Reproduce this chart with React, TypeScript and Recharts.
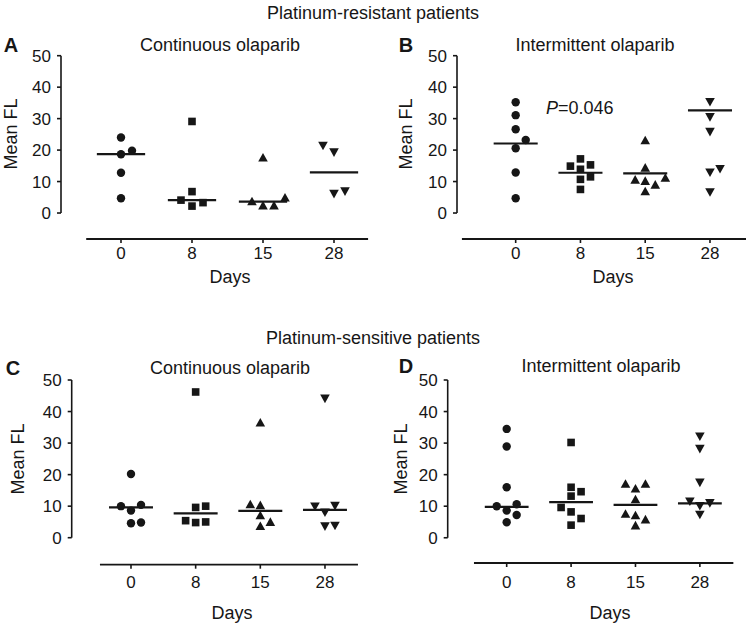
import { ReferenceLine, Scatter, ScatterChart, XAxis, YAxis } from "recharts";

const days = ["0", "8", "15", "28"];
const yTicks = [0, 10, 20, 30, 40, 50];

// A: platinum-resistant, continuous olaparib
const aDay0 = [24.0, 19.8, 18.7, 12.8, 4.7];
const aDay8 = [29.1, 6.8, 4.1, 3.3, 2.2];
const aDay15 = [17.7, 5.0, 3.8, 2.5, 2.5];
const aDay28 = [21.3, 19.2, 6.8, 6.0];
const aMedians = [18.7, 4.1, 3.6, 12.9];

// B: platinum-resistant, intermittent olaparib
const bDay0 = [35.2, 31.1, 26.6, 23.2, 20.6, 12.9, 4.7];
const bDay8 = [17.2, 15.3, 14.9, 13.9, 11.5, 10.7, 7.5];
const bDay15 = [23.2, 14.5, 11.3, 10.7, 10.3, 9.1, 7.0];
const bDay28 = [35.2, 30.4, 25.7, 13.9, 12.8, 6.5];
const bMedians = [22.1, 12.8, 12.6, 32.6];

// C: platinum-sensitive, continuous olaparib
const cDay0 = [20.2, 10.4, 10.0, 8.6, 4.8, 4.6];
const cDay8 = [46.2, 10.0, 9.6, 5.4, 5.0, 4.8];
const cDay15 = [36.6, 10.7, 10.4, 7.2, 5.1, 3.8];
const cDay28 = [44.0, 10.0, 9.8, 7.9, 3.7, 3.5];
const cMedians = [9.6, 7.7, 8.5, 8.8];

// D: platinum-sensitive, intermittent olaparib
const dDay0 = [34.5, 28.9, 16.0, 10.6, 10.0, 8.6, 7.2, 4.9];
const dDay8 = [30.2, 16.0, 14.6, 13.2, 9.6, 8.2, 6.1, 4.0];
const dDay15 = [17.2, 17.2, 15.7, 12.3, 7.7, 7.2, 5.9, 4.0];
const dDay28 = [32.0, 28.1, 17.4, 11.4, 10.9, 10.0, 7.2];
const dMedians = [9.8, 11.3, 10.4, 10.9];

const INK = "#161616";
const FONT = "'Liberation Sans', Arial, Helvetica, sans-serif";
const STEP = 0.155; // jitter column width, in category units
const GAP = 2.7; // min vertical distance before a point gets pushed sideways

// simple column beeswarm so overlapping points get spread out
function swarm(values: number[], center: number) {
  const placed: { y: number; col: number }[] = [];
  [...values]
    .sort((a, b) => a - b)
    .forEach((v) => {
      const free = (c: number) => placed.every((p) => p.col !== c || Math.abs(p.y - v) >= GAP);
      const count = (c: number) => placed.filter((p) => p.col === c).length;
      let col = 0;
      for (let k = 1; !free(col) && k < 6; k++) {
        const sides = count(-k) < count(k) ? [-k, k] : [k, -k];
        const hit = sides.find(free);
        if (hit !== undefined) col = hit;
      }
      placed.push({ y: v, col });
    });
  return placed.map((p) => ({ x: center + p.col * STEP, y: p.y }));
}

type Kind = "circle" | "square" | "up" | "down";
const kinds: Kind[] = ["circle", "square", "up", "down"];

function Marker({ cx, cy, kind }: { cx?: number; cy?: number; kind: Kind }) {
  if (cx == null || cy == null) return null;
  if (kind === "circle") return <circle cx={cx} cy={cy} r={4.2} fill={INK} />;
  if (kind === "square") return <rect x={cx - 3.8} y={cy - 3.8} width={7.6} height={7.6} fill={INK} />;
  const w = 4.8;
  const h = 4.3;
  if (kind === "up")
    return <path d={`M${cx},${cy - h} L${cx + w},${cy + h} L${cx - w},${cy + h} Z`} fill={INK} />;
  return <path d={`M${cx},${cy + h} L${cx + w},${cy - h} L${cx - w},${cy - h} Z`} fill={INK} />;
}

type Panel = {
  groups: number[][];
  medians: number[];
  margin: { top: number; right: number; bottom: number; left: number };
  xDomain: [number, number];
  xLine: [number, number];
  yMin: number;
  tickGap: number;
};

const panels: Panel[] = [
  {
    groups: [aDay0, aDay8, aDay15, aDay28],
    medians: aMedians,
    margin: { top: 55.7, right: 376, bottom: 355, left: 21 },
    xDomain: [-0.845, 3.507],
    xLine: [-0.49, 3.48],
    yMin: -8.26,
    tickGap: 4,
  },
  {
    groups: [bDay0, bDay8, bDay15, bDay28],
    medians: bMedians,
    margin: { top: 55.7, right: 0, bottom: 355, left: 417 },
    xDomain: [-0.906, 3.556],
    xLine: [-0.83, 3.556],
    yMin: -8.26,
    tickGap: 4,
  },
  {
    groups: [cDay0, cDay8, cDay15, cDay28],
    medians: cMedians,
    margin: { top: 380, right: 387.4, bottom: 29.3, left: 31.7 },
    xDomain: [-0.917, 3.52],
    xLine: [-0.48, 3.51],
    yMin: -8.56,
    tickGap: 7,
  },
  {
    groups: [dDay0, dDay8, dDay15, dDay28],
    medians: dMedians,
    margin: { top: 380, right: 12, bottom: 31, left: 407.7 },
    xDomain: [-0.916, 3.53],
    xLine: [-0.508, 3.52],
    yMin: -8.0,
    tickGap: 9,
  },
];

function PanelChart({ p }: { p: Panel }) {
  const [x0] = p.xDomain;
  return (
    <div style={{ position: "absolute", left: 0, top: 0 }}>
      <ScatterChart width={746} height={624} margin={p.margin}>
        <XAxis
          type="number"
          dataKey="x"
          domain={p.xDomain}
          allowDataOverflow
          ticks={[0, 1, 2, 3]}
          tickFormatter={(v) => days[v]}
          axisLine={false}
          tickLine={{ stroke: INK, strokeWidth: 1.6 }}
          tickSize={4}
          tickMargin={p.tickGap}
          height={30}
          tick={{ fill: INK, fontSize: 17, fontFamily: FONT }}
        />
        <YAxis
          type="number"
          dataKey="y"
          domain={[p.yMin, 50]}
          allowDataOverflow
          ticks={yTicks}
          axisLine={false}
          tickLine={{ stroke: INK, strokeWidth: 1.6 }}
          tickSize={4}
          tickMargin={6}
          width={40}
          tick={{ fill: INK, fontSize: 17, fontFamily: FONT }}
        />
        <ReferenceLine
          segment={[{ x: x0, y: 0 }, { x: x0, y: 50 }]}
          stroke={INK}
          strokeWidth={1.6}
          ifOverflow="visible"
        />
        <ReferenceLine
          segment={[{ x: p.xLine[0], y: p.yMin }, { x: p.xLine[1], y: p.yMin }]}
          stroke={INK}
          strokeWidth={1.8}
          ifOverflow="visible"
        />
        {p.medians.map((m, i) => (
          <ReferenceLine
            key={"m" + i}
            segment={[{ x: i - 0.34, y: m }, { x: i + 0.34, y: m }]}
            stroke={INK}
            strokeWidth={2.2}
            ifOverflow="visible"
          />
        ))}
        {p.groups.map((vals, i) => (
          <Scatter
            key={"s" + i}
            data={swarm(vals, i)}
            isAnimationActive={false}
            shape={(props: any) => <Marker cx={props.cx} cy={props.cy} kind={kinds[i]} />}
          />
        ))}
      </ScatterChart>
    </div>
  );
}

const txt = { fontFamily: FONT, fill: INK } as const;

export default function App() {
  return (
    <div style={{ position: "absolute", left: 0, top: 0, width: 746, height: 624, background: "#fff" }}>
      {panels.map((p, i) => (
        <PanelChart key={i} p={p} />
      ))}
      <svg
        width={746}
        height={624}
        style={{ position: "absolute", left: 0, top: 0, pointerEvents: "none" }}
      >
        <g {...txt} fontSize={18} textAnchor="middle" dominantBaseline="central">
          <text x={373} y={13}>Platinum-resistant patients</text>
          <text x={373} y={338}>Platinum-sensitive patients</text>
          <text x={220} y={45}>Continuous olaparib</text>
          <text x={595} y={45}>Intermittent olaparib</text>
          <text x={230} y={368}>Continuous olaparib</text>
          <text x={601} y={366}>Intermittent olaparib</text>
          <text x={230} y={277}>Days</text>
          <text x={613} y={277}>Days</text>
          <text x={232} y={613}>Days</text>
          <text x={610} y={613}>Days</text>
          <text transform="translate(11,134) rotate(-90)">Mean FL</text>
          <text transform="translate(406,134) rotate(-90)">Mean FL</text>
          <text transform="translate(18,459) rotate(-90)">Mean FL</text>
          <text transform="translate(401,459) rotate(-90)">Mean FL</text>
        </g>
        <g {...txt} fontSize={20} fontWeight="bold" textAnchor="middle" dominantBaseline="central">
          <text x={11} y={45}>A</text>
          <text x={406} y={45}>B</text>
          <text x={13} y={368}>C</text>
          <text x={406} y={366}>D</text>
        </g>
        <text {...txt} x={546} y={108} fontSize={18} dominantBaseline="central">
          <tspan fontStyle="italic">P</tspan>=0.046
        </text>
      </svg>
    </div>
  );
}
